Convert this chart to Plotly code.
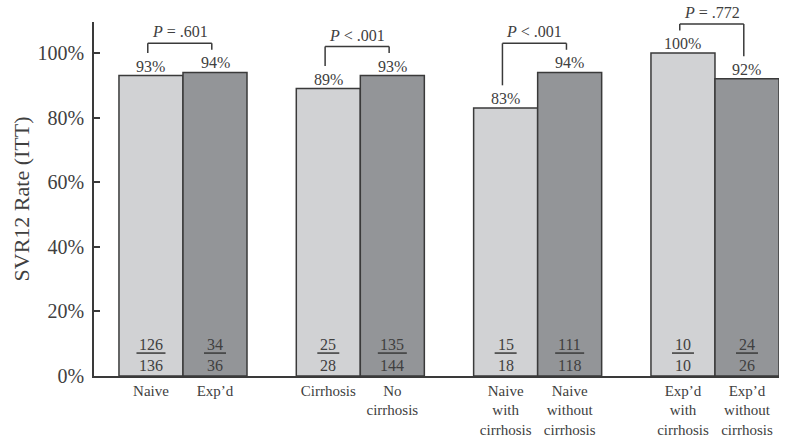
import plotly.graph_objects as go

# SVR12 response by subgroup (ITT)
groups = ["Naive vs Exp'd", "Cirrhosis vs No cirrhosis",
          "Naive: with vs without cirrhosis", "Exp'd: with vs without cirrhosis"]
categories = ["Naive", "Exp’d", "Cirrhosis", "No<br>cirrhosis",
              "Naive<br>with<br>cirrhosis", "Naive<br>without<br>cirrhosis",
              "Exp’d<br>with<br>cirrhosis", "Exp’d<br>without<br>cirrhosis"]
svr_rate = [93, 94, 89, 93, 83, 94, 100, 92]
responders = [126, 34, 25, 135, 15, 111, 10, 24]
totals = [136, 36, 28, 144, 18, 118, 10, 26]
p_values = ["<i>P</i> = .601", "<i>P</i> < .001", "<i>P</i> < .001", "<i>P</i> = .772"]
y_ticks = [0, 20, 40, 60, 80, 100]

LIGHT = "#d1d2d4"
DARK = "#939598"
EDGE = "#3a3a3a"
TEXT = "#404040"
FONT = "Liberation Serif"

GROUP_STEP = 2.77  # distance between pair starts, in bar widths
xpos = [g * GROUP_STEP + k for g in range(len(groups)) for k in range(2)]
colors = [LIGHT, DARK] * len(groups)

fig = go.Figure()
fig.add_trace(go.Bar(
    x=xpos, y=svr_rate, width=[1] * len(xpos),
    marker=dict(color=colors, line=dict(color=EDGE, width=1.5)),
    hoverinfo="skip", showlegend=False,
))

annotations = []
shapes = []

# percentage above each bar
for x, v in zip(xpos, svr_rate):
    annotations.append(dict(x=x, y=v, text=f"{v}%", showarrow=False,
                            yanchor="bottom", yshift=-1,
                            font=dict(family=FONT, size=16, color=TEXT)))

# n/N fraction near the base of each bar
for x, n, d in zip(xpos, responders, totals):
    annotations.append(dict(x=x, y=9.7, text=str(n), showarrow=False,
                            yanchor="middle",
                            font=dict(family=FONT, size=16, color=TEXT)))
    annotations.append(dict(x=x, y=3.1, text=str(d), showarrow=False,
                            yanchor="middle",
                            font=dict(family=FONT, size=16, color=TEXT)))
    half = 4 + 3.5 * max(len(str(n)), len(str(d)))
    shapes.append(dict(type="line", xref="x", yref="y", xsizemode="pixel",
                       xanchor=x, x0=-half, x1=half, y0=7.1, y1=7.1,
                       line=dict(color=EDGE, width=1.5)))

# significance brackets between paired bars
for g, label in enumerate(p_values):
    a, b = 2 * g, 2 * g + 1
    xa, xb = xpos[a] - 0.05, xpos[b] - 0.05
    top = max(svr_rate[a], svr_rate[b]) + 9
    legs = [(xa, svr_rate[a] + 7), (xb, svr_rate[b] + 7)]
    for xl, yl in legs:
        shapes.append(dict(type="line", xref="x", yref="y", x0=xl, x1=xl,
                           y0=yl, y1=top, line=dict(color=EDGE, width=1.5)))
    shapes.append(dict(type="line", xref="x", yref="y", x0=xa, x1=xb,
                       y0=top, y1=top, line=dict(color=EDGE, width=1.5)))
    annotations.append(dict(x=(xa + xb) / 2, y=top, text=label, showarrow=False,
                            yanchor="bottom", yshift=1,
                            font=dict(family=FONT, size=16, color=TEXT)))

fig.update_layout(
    width=792, height=439,
    margin=dict(l=94, r=13, t=22, b=63),
    paper_bgcolor="white", plot_bgcolor="white",
    font=dict(family=FONT, color=TEXT),
    annotations=annotations, shapes=shapes,
    xaxis=dict(range=[-0.89, xpos[-1] + 0.5], tickvals=xpos, ticktext=categories,
               showline=True, linecolor=EDGE, linewidth=1.5, ticks="",
               showgrid=False, zeroline=False, automargin=False,
               tickfont=dict(family=FONT, size=15, color=TEXT)),
    yaxis=dict(range=[0, 109.6], tickvals=y_ticks,
               ticktext=[f"{t}%" for t in y_ticks],
               showline=True, linecolor=EDGE, linewidth=1.5,
               ticks="inside", ticklen=6, tickcolor=EDGE, tickwidth=1.5,
               showgrid=False, zeroline=False, automargin=False,
               ticklabelstandoff=4,
               tickfont=dict(family=FONT, size=20, color=TEXT),
               title=dict(text="SVR12 Rate (ITT)", standoff=2,
                          font=dict(family=FONT, size=22, color=TEXT))),
)

fig.write_html("out.html")
